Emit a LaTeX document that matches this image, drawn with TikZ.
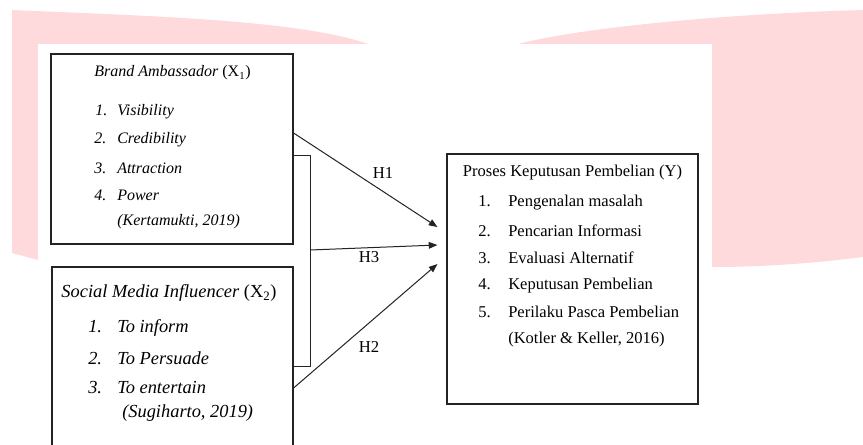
\documentclass[tikz,border=0pt]{standalone}
\usepackage{fontspec}
\setmainfont{Liberation Serif}
\usetikzlibrary{arrows.meta}
\definecolor{pinkbg}{RGB}{255,218,220}
\definecolor{ln}{RGB}{35,35,35}
\begin{document}
\begin{tikzpicture}[x=0.75pt,y=-0.75pt,
  boxn/.style={draw=ln, line width=0.85pt, inner sep=0pt},
  fa/.style={font=\fontsize{12}{14}\selectfont\itshape},
  fb/.style={font=\fontsize{13.8}{16}\selectfont\itshape},
  fc/.style={font=\fontsize{12.4}{14}\selectfont},
  itm/.style={anchor=west, inner sep=0pt},
  ttl/.style={anchor=center, inner sep=0pt},
  arr/.style={draw=ln, line width=0.75pt, -{Triangle[length=6.5pt,width=5pt]}},
  lab/.style={inner sep=0pt, font=\fontsize{12.5}{14}\selectfont}]
\clip (0,0) rectangle (863,444);
% background watermark
\fill[pinkbg] (12,10) .. controls (150,16) and (300,20) .. (368,44) -- (440,100) -- (518,44)
  .. controls (580,28) and (720,14) .. (863,10) -- (863,257)
  .. controls (800,265) and (750,267) .. (712,267) -- (38,260) -- (12,253) -- cycle;
\fill[white] (38,44) rectangle (712,460);
% boxes
\node[boxn, minimum width=181.5pt, minimum height=142.5pt] (box1) at (172,149) {};
\node[boxn, minimum width=180.75pt, minimum height=142.5pt] (box2) at (172.5,362) {};
\node[boxn, minimum width=188.25pt, minimum height=187.5pt] (box3) at (572.5,279) {};
% box 1 text
\node[ttl, fa] (t1) at (172.5,73) {Brand Ambassador \upshape(X\textsubscript{1})};
\node[itm, fa] (a1) at (95,112) {\makebox[16.5pt][l]{1.}Visibility};
\node[itm, fa] (a2) at (94,140) {\makebox[17.25pt][l]{2.}Credibility};
\node[itm, fa] (a3) at (94,168) {\makebox[17.25pt][l]{3.}Attraction};
\node[itm, fa] (a4) at (94,195) {\makebox[17.25pt][l]{4.}Power};
\node[itm, fa] (a5) at (117,222) {(Kertamukti, 2019)};
% box 2 text
\node[ttl, fb] (t2) at (169,293) {Social Media Influencer \upshape(X\textsubscript{2})};
\node[itm, fb] (b1) at (88,328) {\makebox[21.75pt][l]{1.}To inform};
\node[itm, fb] (b2) at (88,358) {\makebox[21.75pt][l]{2.}To Persuade};
\node[itm, fb] (b3) at (88,388) {\makebox[21.75pt][l]{3.}To entertain};
\node[itm, fb] (b4) at (122,413) {(Sugiharto, 2019)};
% box 3 text
\node[ttl, fc] (t3) at (572.5,173) {Proses Keputusan Pembelian (Y)};
\node[itm, fc] (c1) at (478,203) {\makebox[22.5pt][l]{1.}Pengenalan masalah};
\node[itm, fc] (c2) at (478,231) {\makebox[22.5pt][l]{2.}Pencarian Informasi};
\node[itm, fc] (c3) at (478,258) {\makebox[22.5pt][l]{3.}Evaluasi Alternatif};
\node[itm, fc] (c4) at (478,286) {\makebox[22.5pt][l]{4.}Keputusan Pembelian};
\node[itm, fc] (c5) at (478,312) {\makebox[22.5pt][l]{5.}Perilaku Pasca Pembelian};
\node[itm, fc] (c6) at (508,340) {(Kotler \& Keller, 2016)};
% bracket joining X1 and X2
\coordinate (bt) at ([yshift=-4.5pt]box1.east);
\coordinate (bb) at ([yshift=-3pt]box2.east);
\draw[draw=ln, line width=0.75pt] (bt) -- ++(17,0) |- (bb);
% arrow end points
\coordinate (h1s) at ([yshift=12pt]box1.east);
\coordinate (h2s) at ([yshift=-19.5pt]box2.east);
\coordinate (h3s) at (310,250);
\coordinate (h1e) at ([xshift=-6.75pt,yshift=39pt]box3.west);
\coordinate (h3e) at ([xshift=-6.75pt,yshift=25.5pt]box3.west);
\coordinate (h2e) at ([xshift=-6.75pt,yshift=11.25pt]box3.west);
\draw[arr] (h1s) -- (h1e);
\draw[arr] (h3s) -- (h3e);
\draw[arr] (h2s) -- (h2e);
% labels
\node[lab] (l1) at (383,173) {H1};
\node[lab] (l3) at (369,257) {H3};
\node[lab] (l2) at (369,347) {H2};
\end{tikzpicture}
\end{document}
